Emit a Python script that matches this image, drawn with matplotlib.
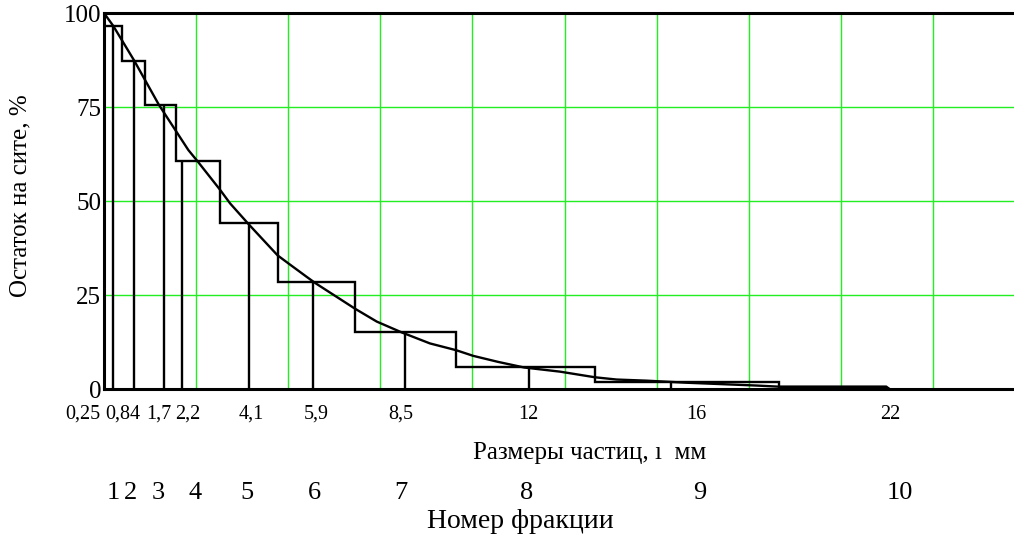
import numpy as np
import matplotlib.pyplot as plt

plt.rcParams['font.family'] = ['Liberation Serif', 'DejaVu Serif']

# fraction boundaries, mm, and residue on sieve for each fraction, %
edges = [0, 0.51, 1.16, 2.03, 3.27, 4.90, 7.09, 9.93, 13.86, 19.06, 22.08]
residue = [96.7, 87.4, 75.6, 60.6, 44.3, 28.4, 15.2, 5.8, 1.9, 0.7]

# mean particle size of each fraction, mm
sizes = [0.25, 0.84, 1.7, 2.2, 4.1, 5.9, 8.5, 12, 16, 22]
size_labels = ['0,25', '0,84', '1,7', '2,2', '4,1', '5,9', '8,5', '12', '16', '22']
fraction_no = ['1', '2', '3', '4', '5', '6', '7', '8', '9', '10']

# cumulative residue curve
curve_x = [0.0, 0.26, 0.85, 1.55, 2.38, 2.65, 3.27, 3.56, 4.11, 4.90, 5.20,
           5.72, 5.97, 7.09, 7.70, 8.41, 9.20, 9.94, 10.42, 11.12, 11.86,
           12.87, 13.86, 14.47, 15.32, 16.45, 17.64, 18.43, 19.06, 22.08,
           22.19, 26.0]
curve_y = [100, 96.6, 87.4, 75.6, 63.6, 60.5, 53.1, 49.4, 43.6, 35.6, 33.5,
           29.9, 28.2, 21.4, 18.0, 15.1, 12.2, 10.4, 8.9, 7.3, 5.8,
           4.7, 3.2, 2.6, 2.3, 1.75, 1.3, 1.0, 0.7, 0.7,
           0.0, 0.0]

# where the crowded size labels and fraction numbers are written, mm
label_pos = [-0.6, 0.54, 1.55, 2.35, 4.15, 5.99, 8.39, 11.97, 16.71, 22.19]
number_pos = [0.25, 0.76, 1.52, 2.57, 4.04, 5.93, 8.39, 11.94, 16.83, 22.47]

fig = plt.figure(figsize=(10.14, 5.39), dpi=100)
ax = fig.add_axes([0.1026, 0.2777, 0.9083, 0.698])

ax.set_xlim(0, 26)
ax.set_ylim(0, 100)

green = '#22ee22'
for gx in np.arange(2.6, 26, 2.6):
    ax.axvline(gx, color=green, lw=1.0, zorder=1)
for gy in [25, 50, 75]:
    ax.axhline(gy, color=green, lw=1.0, zorder=1)

ax.stairs(residue, edges, color='black', lw=1.7, zorder=3)

# vertical line for each fraction's mean size up to its step
ax.vlines(sizes, 0, residue, color='black', lw=1.7, zorder=3)

ax.plot(curve_x, curve_y, color='black', lw=1.7, zorder=4)

for side in ['top', 'left', 'bottom']:
    ax.spines[side].set_linewidth(2.2)
ax.spines['right'].set_visible(False)

ax.set_xticks([])
ax.set_yticks([0, 25, 50, 75, 100])
ax.set_yticklabels(['0', '25', '50', '75', '100'], fontsize=18)
ax.tick_params(axis='y', length=0, pad=2)

trans = ax.get_xaxis_transform()
for x, lab in zip(label_pos, size_labels):
    ax.text(x, -0.066, lab, transform=trans, ha='center', va='center',
            fontsize=14.5, clip_on=False)

fig.text(590 / 1014, 1 - 453 / 539, 'Размеры частиц, ı  мм', ha='center',
         va='center', fontsize=18)
for x, lab in zip(number_pos, fraction_no):
    ax.text(x, -(493 - 389.3) / 376.3, lab, transform=trans, ha='center',
            va='center', fontsize=19, clip_on=False)
fig.text(520 / 1014, 1 - 521 / 539, 'Номер фракции', ha='center',
         va='center', fontsize=20)
fig.text(20 / 1014, 1 - 196 / 539, 'Остаток на сите, %', ha='center',
         va='center', rotation=90, fontsize=18)

fig.savefig('out.png', dpi=100)
